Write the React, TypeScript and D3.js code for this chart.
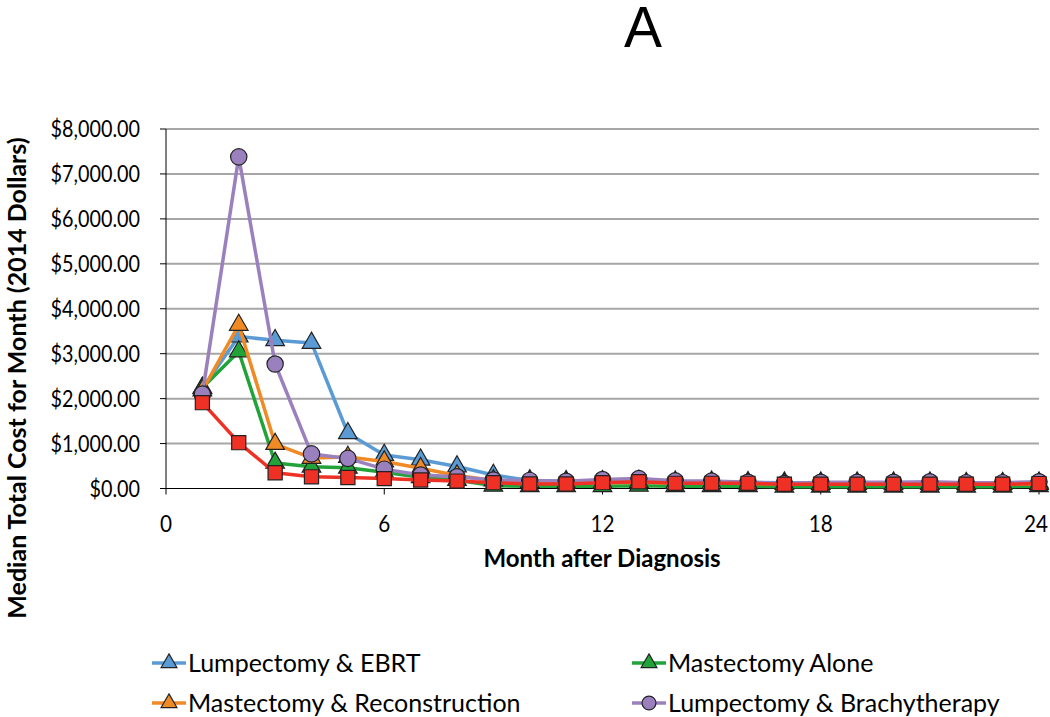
import React from "react";
import * as d3 from "d3";

const months = d3.range(1, 25);
const lumpEBRT = [2230, 3380, 3300, 3240, 1230, 745, 640, 490, 300, 180, 160, 160, 170, 150, 150, 140, 130, 130, 130, 130, 130, 120, 120, 130];
const mastAlone = [2240, 3050, 570, 485, 460, 360, 250, 190, 60, 50, 50, 50, 60, 50, 50, 50, 40, 40, 40, 40, 40, 40, 40, 50];
const mastRecon = [2180, 3640, 990, 680, 700, 600, 450, 290, 180, 140, 130, 130, 140, 120, 120, 110, 100, 100, 100, 100, 100, 100, 100, 100];
const lumpBrachy = [2100, 7380, 2770, 770, 670, 430, 300, 260, 190, 180, 160, 200, 220, 170, 165, 140, 110, 140, 140, 140, 150, 130, 130, 150];
const redSeries = [1910, 1020, 350, 260, 245, 220, 190, 165, 130, 100, 100, 130, 150, 115, 115, 115, 95, 95, 95, 95, 95, 95, 95, 110];

const xTicks = [0, 6, 12, 18, 24];
const yTicks = [0, 1000, 2000, 3000, 4000, 5000, 6000, 7000, 8000];

type Series = { name: string; values: number[]; color: string; shape: "triangle" | "circle" | "square"; legend: boolean };

const series: Series[] = [
  { name: "Lumpectomy & EBRT", values: lumpEBRT, color: "#5B9BD5", shape: "triangle", legend: true },
  { name: "Mastectomy Alone", values: mastAlone, color: "#22A33A", shape: "triangle", legend: true },
  { name: "Mastectomy & Reconstruction", values: mastRecon, color: "#F08A24", shape: "triangle", legend: true },
  { name: "Lumpectomy & Brachytherapy", values: lumpBrachy, color: "#9B80BE", shape: "circle", legend: true },
  { name: "Other", values: redSeries, color: "#EE3124", shape: "square", legend: false },
];

const FONT = "Lato, 'Open Sans', sans-serif";

function symbolPath(shape: Series["shape"], scale = 1) {
  const type = shape === "triangle" ? d3.symbolTriangle : shape === "circle" ? d3.symbolCircle : d3.symbolSquare;
  const size = shape === "triangle" ? 150 : shape === "circle" ? 210 : 200;
  return d3.symbol().type(type).size(size * scale * scale)() as string;
}

export default function App() {
  const x = d3.scaleLinear().domain([0, 24]).range([166, 1039]);
  const y = d3.scaleLinear().domain([0, 8000]).range([488.5, 129]);
  const fmt = (v: number) => "$" + d3.format(",.2f")(v);
  const line = d3
    .line<number>()
    .x((_, i) => x(months[i]))
    .y((v) => y(v));

  const legendItems = series.filter((s) => s.legend);
  const legendPos = [
    { x: 152, y: 663 },
    { x: 632, y: 663 },
    { x: 152, y: 703 },
    { x: 632, y: 703 },
  ];

  return (
    <div style={{ position: "absolute", left: 0, top: 0 }}>
      <svg width={1050} height={717} style={{ display: "block", background: "#fff" }}>
        <text x={643} y={47} textAnchor="middle" fontFamily="'Liberation Sans', Arial, sans-serif" fontSize={57}>
          A
        </text>
        {yTicks.map((t) =>
          t === 0 ? null : (
            <line key={"g" + t} x1={166} x2={1039} y1={y(t)} y2={y(t)} stroke="#A6A6A6" strokeWidth={2} />
          )
        )}
        <line x1={166} x2={166} y1={y(8000)} y2={y(0)} stroke="#000" strokeWidth={1} />
        <line x1={166} x2={1039} y1={y(0)} y2={y(0)} stroke="#000" strokeWidth={1} />
        {yTicks.map((t) => (
          <g key={"yt" + t}>
            <line x1={160} x2={166} y1={y(t)} y2={y(t)} stroke="#000" />
            <text
              transform={`translate(140,${y(t)}) scale(0.86,1)`}
              dy="0.36em"
              textAnchor="end"
              fontFamily={FONT}
              fontSize={23}
            >
              {fmt(t)}
            </text>
          </g>
        ))}
        {xTicks.map((t) => (
          <g key={"xt" + t}>
            <line x1={x(t)} x2={x(t)} y1={y(0)} y2={y(0) + 6} stroke="#000" />
            <text
              transform={`translate(${t === 24 ? 1048 : x(t)},532) scale(0.9,1)`}
              textAnchor={t === 24 ? "end" : "middle"}
              fontFamily={FONT}
              fontSize={23}
            >
              {t}
            </text>
          </g>
        ))}
        <text x={602} y={567} textAnchor="middle" fontFamily={FONT} fontWeight="bold" fontSize={24}>
          Month after Diagnosis
        </text>
        <text
          transform="translate(26,378) rotate(-90)"
          textAnchor="middle"
          fontFamily={FONT}
          fontWeight="bold"
          fontSize={25}
        >
          Median Total Cost for Month (2014 Dollars)
        </text>
        {series.map((s) => (
          <g key={s.name}>
            <path d={line(s.values) as string} fill="none" stroke={s.color} strokeWidth={3.5} strokeLinejoin="round" />
            {s.values.map((v, i) => (
              <path
                key={i}
                d={symbolPath(s.shape)}
                transform={`translate(${x(months[i])},${y(v)})`}
                fill={s.color}
                stroke="#222"
                strokeWidth={1.2}
              />
            ))}
          </g>
        ))}
        {legendItems.map((s, i) => {
          const p = legendPos[i];
          return (
            <g key={"lg" + s.name}>
              <line x1={p.x} x2={p.x + 34} y1={p.y} y2={p.y} stroke={s.color} strokeWidth={3.5} />
              <path
                d={symbolPath(s.shape, 0.85)}
                transform={`translate(${p.x + 17},${p.y})`}
                fill={s.color}
                stroke="#222"
                strokeWidth={1.2}
              />
              <text x={p.x + 36} y={p.y} dy="0.36em" fontFamily={FONT} fontSize={25}>
                {s.name}
              </text>
            </g>
          );
        })}
      </svg>
    </div>
  );
}
